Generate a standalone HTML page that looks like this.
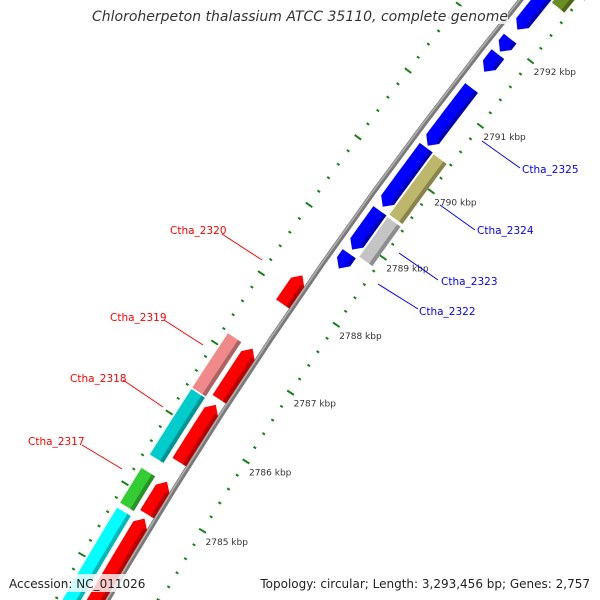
<!DOCTYPE html>
<html><head><meta charset="utf-8"><style>
html,body{margin:0;padding:0;background:#fff;width:600px;height:600px;overflow:hidden;}
svg{display:block;font-family:"DejaVu Sans","Liberation Sans",sans-serif;}
</style></head><body>
<svg id="map" width="600" height="600" viewBox="0 0 600 600" xmlns="http://www.w3.org/2000/svg" overflow="hidden">
<g id="ticks"></g>
<g id="backbone"></g>
<g id="genes"></g>
<g id="ticklabels"></g>
<g font-size="10.5">
<line x1="222" y1="234" x2="262" y2="260" stroke="#f00"/>
<text x="170" y="234" fill="#f00">Ctha_2320</text>
<line x1="164" y1="320" x2="203" y2="345" stroke="#f00"/>
<text x="110" y="321" fill="#f00">Ctha_2319</text>
<line x1="123" y1="380" x2="163" y2="407" stroke="#f00"/>
<text x="70" y="382" fill="#f00">Ctha_2318</text>
<line x1="82" y1="445" x2="122" y2="469" stroke="#f00"/>
<text x="28" y="445" fill="#f00">Ctha_2317</text>
<line x1="378" y1="284" x2="418" y2="309" stroke="#00f"/>
<text x="419" y="315" fill="#00f">Ctha_2322</text>
<line x1="399" y1="253" x2="438" y2="280" stroke="#00f"/>
<text x="441" y="285" fill="#00f">Ctha_2323</text>
<line x1="440" y1="205" x2="475" y2="230" stroke="#00f"/>
<text x="477" y="234" fill="#00f">Ctha_2324</text>
<line x1="482" y1="141" x2="520" y2="168" stroke="#00f"/>
<text x="522" y="173" fill="#00f">Ctha_2325</text>
</g>
<rect x="92" y="6" width="416" height="18" fill="#fff" opacity="0.8"/>
<text x="300" y="21" text-anchor="middle" font-size="14" font-style="italic" fill="#333">Chloroherpeton thalassium ATCC 35110, complete genome</text>
<rect x="5" y="574" width="142" height="18" fill="#fff" opacity="0.8"/>
<text x="9" y="588" font-size="12" fill="#222">Accession: NC_011026</text>
<rect x="256" y="574" width="338" height="18" fill="#fff" opacity="0.8"/>
<text x="590" y="588" text-anchor="end" font-size="12" fill="#222">Topology: circular; Length: 3,293,456 bp; Genes: 2,757</text>
</svg>
<script>
const geneStarts = [2783.0, 2784.82, 2785.56, 2786.46, 2787.84, 2783.0, 2784.77, 2785.45, 2786.40, 2788.58, 2788.86, 2789.50, 2790.42, 2791.55, 2791.86, 2792.20, 2788.84, 2789.47, 2792.72];
const geneEnds   = [2784.76, 2785.28, 2786.38, 2787.19, 2788.26, 2784.70, 2785.26, 2786.38, 2787.18, 2788.80, 2789.44, 2790.39, 2791.30, 2791.82, 2792.06, 2793.5, 2789.43, 2790.38, 2793.6];
const geneTracks = [1, 1, 1, 1, 1, 2, 2, 2, 2, -1, -1, -1, -1, -1, -1, -1, -2, -2, -2];
const geneColors = ["#ff0000","#ff0000","#ff0000","#ff0000","#ff0000","#00ffff","#33cc33","#00cccc","#f08a8a","#0000ff","#0000ff","#0000ff","#0000ff","#0000ff","#0000ff","#0000ff","#c4c4c4","#bdb76b","#6b8e23"];
const tickLabels = [2785, 2786, 2787, 2788, 2789, 2790, 2791, 2792];

const NS = "http://www.w3.org/2000/svg";
const CX = 4325, CY = 3061, RB = 4883, RIN = 4837, ROUT = 4928;
function ang(k){ return (211.54 + (k - 2785) * 0.970) * Math.PI / 180; }
function pt(k, r){ const a = ang(k); return [CX + r * Math.cos(a), CY + r * Math.sin(a)]; }
function arcPts(k1, k2, r){ const out=[]; const n=12; for(let i=0;i<=n;i++){ out.push(pt(k1+(k2-k1)*i/n, r)); } return out; }
function mk(tag, attrs, parent){ const e=document.createElementNS(NS, tag); for(const k in attrs) e.setAttribute(k, attrs[k]); parent.appendChild(e); return e; }

const bb = document.getElementById('backbone');
const b1 = mk('polyline', {points: arcPts(2782, 2795, RB).map(p=>p.join(',')).join(' '), fill:'none', stroke:'#7a7a7a', 'stroke-width':5}, bb);


const b2 = mk('polyline', {points: arcPts(2782, 2795, RB+1).map(p=>p.join(',')).join(' '), fill:'none', stroke:'#b0b0b0', 'stroke-width':1.5}, bb);



const tg = document.getElementById('ticks');
for (let i = 0; i <= 70; i++) {
  const k = 2782 + i * 0.2;
  const major = Math.abs(k - Math.round(k)) < 0.01;
  [RIN, ROUT].forEach(r => {
    const h = major ? 4 : 1.5;
    const p1 = pt(k, r - h), p2 = pt(k, r + h);
    const t = mk('line', {x1:p1[0], y1:p1[1], x2:p2[0], y2:p2[1], stroke:'#1a7f1a', 'stroke-width':2}, tg);
    
    
  });
}
const tl = document.getElementById('ticklabels');
tickLabels.forEach(k => {
  const p = pt(k, RIN);
  const t = mk('text', {x:p[0]+3, y:p[1]+14, 'font-size':9, fill:'#333'}, tl);
  t.textContent = k + ' kbp';
  
  
});

const gg = document.getElementById('genes');
const trackR = {1:4893, 2:4914, '-1':4867, '-2':4849};
function shade(hex, f){ const n=parseInt(hex.slice(1),16); let r=n>>16,g=(n>>8)&255,b=n&255; r=Math.round(r*f);g=Math.round(g*f);b=Math.round(b*f); return 'rgb('+r+','+g+','+b+')'; }
for (let i = 0; i < geneStarts.length; i++) {
  const k1 = geneStarts[i], k2 = geneEnds[i], tr = geneTracks[i];
  const rc = trackR[tr], hw = 8, rO = rc + hw, rI = rc - hw;
  const tip = 0.1;
  let poly;
  if (tr === 1) {
    poly = arcPts(k1, k2 - tip, rO).concat([pt(k2, rc)], arcPts(k2 - tip, k1, rI));
  } else if (tr === -1) {
    poly = arcPts(k1 + tip, k2, rO).concat(arcPts(k2, k1 + tip, rI), [pt(k1, rc)]);
  } else {
    poly = arcPts(k1, k2, rO).concat(arcPts(k2, k1, rI));
  }
  const g = mk('polygon', {points: poly.map(p=>p.join(',')).join(' '), fill: geneColors[i]}, gg);
  
  
  const a = tr === -1 ? k1 + tip : k1;
  const s2 = tr === 1 ? k2 - tip : k2;
  const band = arcPts(a, s2, rI + 4).concat(arcPts(s2, a, rI));
  const sb = mk('polygon', {points: band.map(p=>p.join(',')).join(' '), fill: shade(geneColors[i], 0.72)}, gg);
  
  
}
</script>
</body></html>
